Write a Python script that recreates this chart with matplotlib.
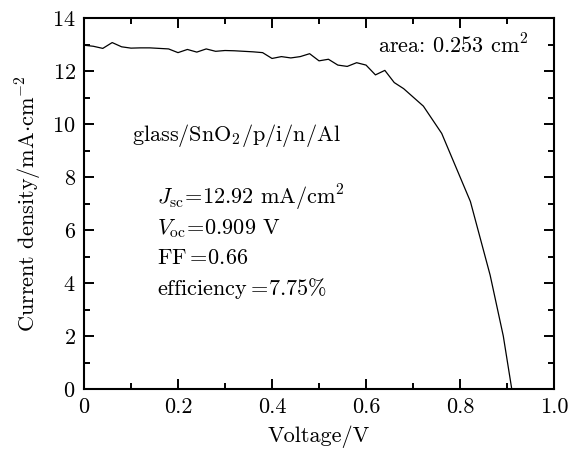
import matplotlib
matplotlib.use("Agg")
from matplotlib import pyplot as plt
from matplotlib.ticker import MultipleLocator, FixedLocator, FixedFormatter

# J-V curve
voltage = [0.00, 0.02, 0.04, 0.06, 0.08, 0.10, 0.12, 0.14, 0.16, 0.18,
           0.20, 0.22, 0.24, 0.26, 0.28, 0.30, 0.32, 0.34, 0.36, 0.38,
           0.40, 0.42, 0.44, 0.46, 0.48, 0.50, 0.52, 0.54, 0.56, 0.58,
           0.60, 0.62, 0.64, 0.66, 0.68, 0.722, 0.761, 0.822, 0.864, 0.892, 0.910]
current = [12.98, 12.94, 12.86, 13.08, 12.92, 12.87, 12.88, 12.88, 12.86, 12.84,
           12.70, 12.82, 12.72, 12.84, 12.75, 12.78, 12.77, 12.75, 12.73, 12.70,
           12.48, 12.55, 12.50, 12.55, 12.66, 12.39, 12.45, 12.23, 12.18, 12.32,
           12.23, 11.86, 12.03, 11.57, 11.34, 10.68, 9.65, 7.08, 4.30, 2.00, 0.0]

x_ticks = [0, 0.2, 0.4, 0.6, 0.8, 1.0]
x_labels = ["0", "0.2", "0.4", "0.6", "0.8", "1.0"]
y_ticks = [0, 2, 4, 6, 8, 10, 12, 14]

device = "glass/SnO$_2$/p/i/n/Al"
params = [
    r"$J_{\rm sc}\!=\!12.92$ mA/cm$^2$",
    r"$V_{\rm oc}\!=\!0.909$ V",
    r"FF$\,\!=\!0.66$",
    r"efficiency$\,\!=\!7.75\%$",
]
area_note = "area: 0.253 cm$^2$"

FS = 16

plt.rcParams["font.family"] = "serif"
plt.rcParams["font.serif"] = ["cmr10", "DejaVu Serif"]
plt.rcParams["mathtext.fontset"] = "cm"
plt.rcParams["axes.formatter.use_mathtext"] = True

fig = plt.figure(figsize=(5.82, 4.55), dpi=100)
ax = fig.add_axes([0.1443, 0.145, 0.952 - 0.1443, 0.960 - 0.145])

ax.plot(voltage, current, color="black", lw=0.9)

ax.set_xlim(0, 1.0)
ax.set_ylim(0, 14)
ax.xaxis.set_major_locator(FixedLocator(x_ticks))
ax.xaxis.set_major_formatter(FixedFormatter(x_labels))
ax.xaxis.set_minor_locator(MultipleLocator(0.1))
ax.yaxis.set_major_locator(FixedLocator(y_ticks))
ax.yaxis.set_minor_locator(MultipleLocator(1))
ax.tick_params(which="both", direction="in", top=True, right=True,
               labelsize=FS, width=1.4, pad=6)
ax.tick_params(which="major", length=7)
ax.tick_params(which="minor", length=4.5)
for s in ax.spines.values():
    s.set_linewidth(1.5)

ax.set_xlabel("Voltage/V", fontsize=FS, labelpad=6)
ax.set_ylabel(r"Current density/mA$\cdot$cm$^{-2}$", fontsize=FS, labelpad=6)

ax.text(0.947, 12.98, area_note, ha="right", va="center", fontsize=FS)
ax.text(0.102, 9.58, device, ha="left", va="center", fontsize=FS)
for i, line in enumerate(params):
    ax.text(0.155, 7.2 - i * 1.13, line, ha="left", va="center", fontsize=FS)

fig.savefig("out.png", dpi=100)
